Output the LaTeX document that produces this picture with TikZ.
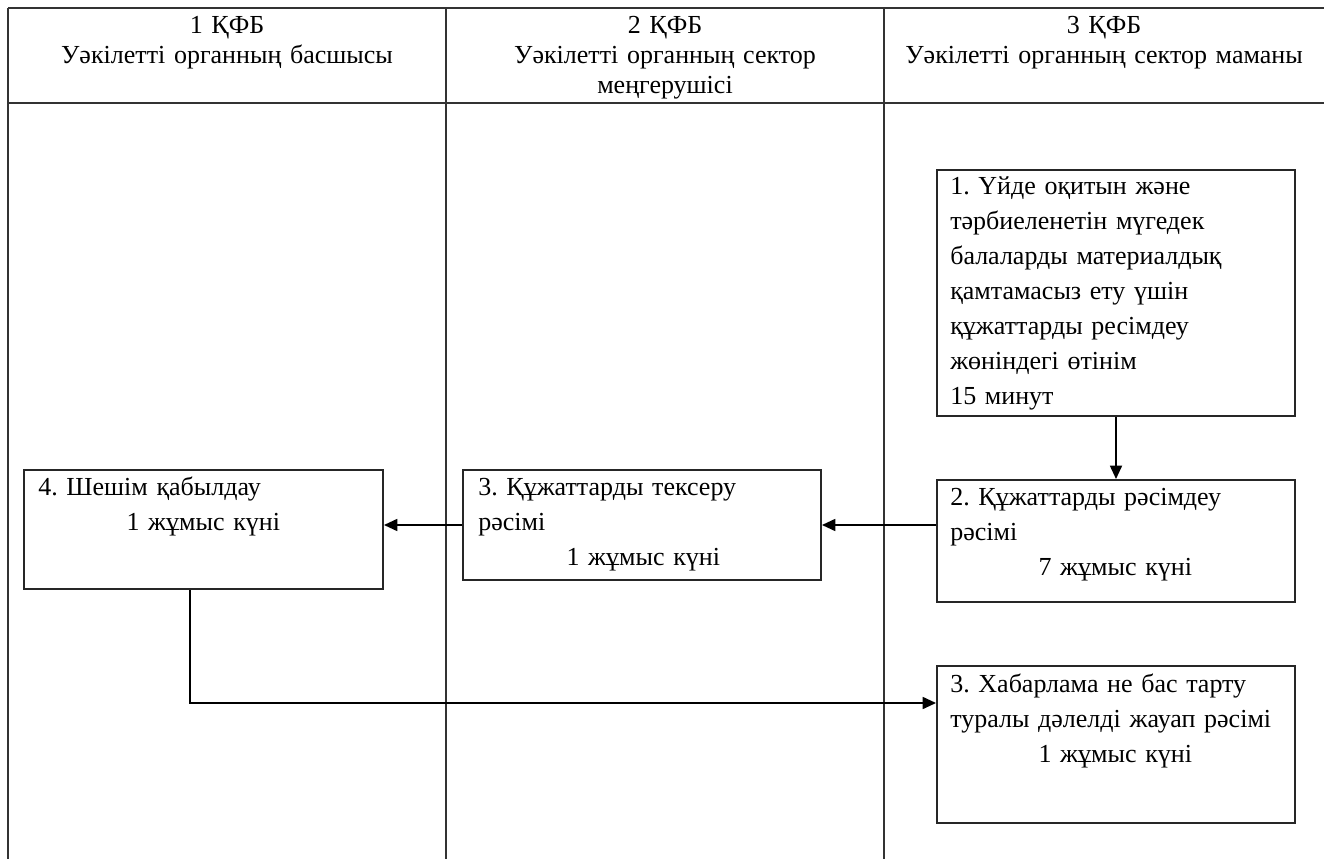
\documentclass[tikz,border=0pt]{standalone}
\usepackage{fontspec}
\setmainfont{Liberation Serif}
\usetikzlibrary{arrows.meta}
\frenchspacing

\newcommand{\daysline}[1]{\makebox[\linewidth][c]{#1}}

\tikzset{
  lane/.style={line width=1.5pt, draw=black!80},
  stepbox/.style={draw=black!85, line width=1.5pt, anchor=north west, inner sep=0pt},
  steptext/.style={anchor=base west, inner sep=0pt, align=left, text width=247.5pt,
    font=\fontsize{19.5}{26.25}\selectfont},
  headtext/.style={anchor=base, inner sep=0pt, align=center, text width=315pt,
    font=\fontsize{19.5}{22.5}\selectfont},
  flow/.style={line width=1.3pt, -{Triangle[length=10pt,width=9pt]}},
}

\begin{document}
\begin{tikzpicture}[x=0.75pt,y=-0.75pt]
\useasboundingbox (0,0) rectangle (1324,859);

% lanes
\draw[lane] (8,8) -- (1324,8);
\draw[lane] (8,103) -- (1324,103);
\draw[lane] (8,8) -- (8,859);
\draw[lane] (446,8) -- (446,859);
\draw[lane] (884,8) -- (884,859);

\node[headtext] (h1) at (227,34) {1 ҚФБ\\Уәкілетті органның басшысы};
\node[headtext] (h2) at (665,34) {2 ҚФБ\\Уәкілетті органның сектор\\меңгерушісі};
\node[headtext] (h3) at (1104,34) {3 ҚФБ\\Уәкілетті органның сектор маманы};

% boxes
\node[stepbox, minimum width=268.5pt, minimum height=184.5pt] (b1) at (936,169) {};
\node[stepbox, minimum width=268.5pt, minimum height=91.5pt] (b2) at (936,479) {};
\node[stepbox, minimum width=268.5pt, minimum height=82.5pt] (b3) at (462,469) {};
\node[stepbox, minimum width=269.25pt, minimum height=89.25pt] (b4) at (23,469) {};
\node[stepbox, minimum width=268.5pt, minimum height=117.75pt] (b5) at (936,665) {};

\node[steptext] (t1) at ([shift={(14,26)}]b1.north west)
  {1. Үйде оқитын және\\тәрбиеленетін мүгедек\\балаларды материалдық\\қамтамасыз ету үшін\\құжаттарды ресімдеу\\жөніндегі өтінім\\15 минут};
\node[steptext] (t2) at ([shift={(14,26)}]b2.north west)
  {2. Құжаттарды рәсімдеу\\рәсімі\\\daysline{7 жұмыс күні}};
\node[steptext] (t3) at ([shift={(16,26)}]b3.north west)
  {3. Құжаттарды тексеру\\рәсімі\\\daysline{1 жұмыс күні}};
\node[steptext] (t4) at ([shift={(15,26)}]b4.north west)
  {4. Шешім қабылдау\\\daysline{1 жұмыс күні}};
\node[steptext] (t5) at ([shift={(14,27)}]b5.north west)
  {3. Хабарлама не бас тарту\\туралы дәлелді жауап рәсімі\\\daysline{1 жұмыс күні}};

% arrows
\draw[flow] (b1.south) -- (b2.north);
\draw[flow] (b2.west |- b3.east) -- (b3.east);
\draw[flow] (b3.west) -- (b4.east |- b3.west);
\coordinate (turn) at (190,703);
\draw[flow] (b4.south -| turn) -- (turn) -- (b5.west |- turn);

\end{tikzpicture}
\end{document}
